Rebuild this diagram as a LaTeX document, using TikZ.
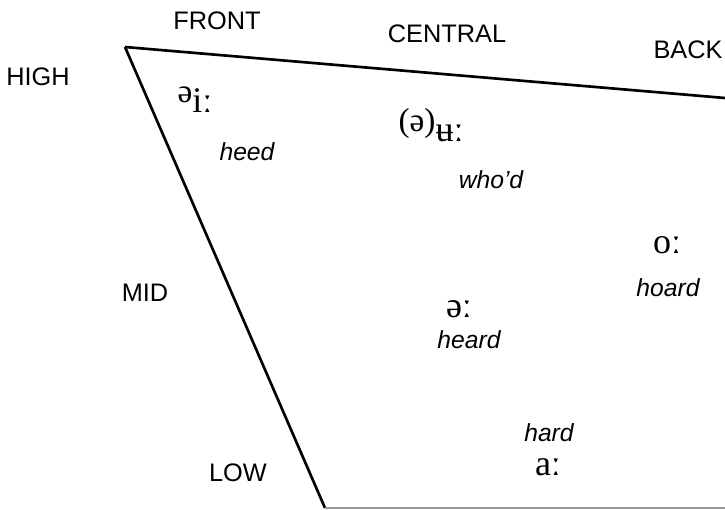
\documentclass[tikz,border=0pt]{standalone}
\usepackage{fontspec}
\setmainfont{Liberation Sans}
\newfontfamily\ipafont{Liberation Serif}
\usepackage{tikz}
\usetikzlibrary{calc}

\newcommand{\raisedschwa}[1]{\raisebox{0.28em}{\fontsize{25}{25}\selectfont #1}}

\tikzset{
  edgelbl/.style={font=\fontsize{19}{21}\selectfont,inner sep=0pt},
  vowel/.style={font=\ipafont\fontsize{27}{29}\selectfont,inner sep=0pt,anchor=base},
  word/.style={font=\itshape\fontsize{18.5}{21}\selectfont,inner sep=0pt,anchor=base}
}

\begin{document}
\begin{tikzpicture}[x=0.75pt,y=-0.75pt,line join=round]
  \useasboundingbox (0,0) rectangle (725,510);
  \coordinate (HF) at (125,47);
  \coordinate (HB) at (725,98);
  \coordinate (LF) at (325,508);
  \coordinate (LB) at (725,508);
  \draw[line width=2pt] (HF) -- (HB);
  \draw[line width=2pt] (HF) -- (LF);
  \draw[line width=1.6pt,gray!80] (LF) -- (LB);
  % axis labels
  \node[edgelbl] (front) at (217,21) {FRONT};
  \node[edgelbl] (central) at (447,34) {CENTRAL};
  \node[edgelbl] (back) at (688,50) {BACK};
  \node[edgelbl] (high) at (38,77) {HIGH};
  \node[edgelbl] (mid) at (145,293) {MID};
  \node[edgelbl] (low) at (238,473) {LOW};
  % vowels
  \node[vowel] (ii) at (195,113) {\raisedschwa{ə}iː};
  \node[word] (heed) at (247,160) {heed};
  \node[vowel] (uu) at (431,142) {\raisedschwa{(ə)}ʉː};
  \node[word] (whod) at (491,188) {who’d};
  \node[vowel] (oo) at (667,253) {oː};
  \node[word] (hoard) at (668,296) {hoard};
  \node[vowel] (er) at (459,317) {əː};
  \node[word] (heard) at (469,348) {heard};
  \node[word] (hard) at (549,441) {hard};
  \node[vowel] (aa) at (548,475) {aː};
\end{tikzpicture}
\end{document}
